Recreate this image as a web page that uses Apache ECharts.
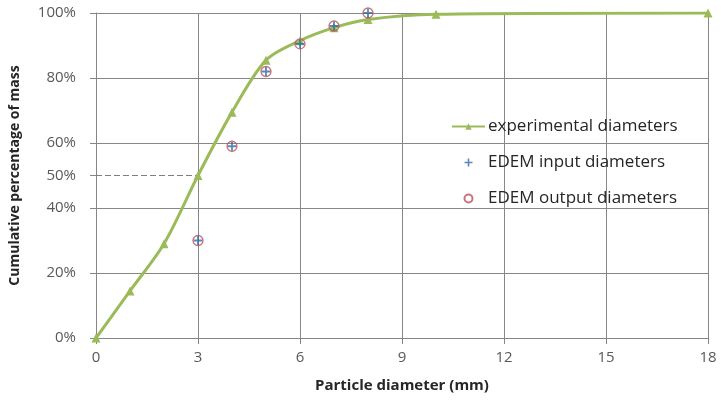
<!DOCTYPE html>
<html>
<head>
<meta charset="utf-8">
<script src="https://cdn.jsdelivr.net/npm/echarts@6/dist/echarts.min.js"></script>
<style>
  html, body { margin: 0; padding: 0; background: #fff; }
  #chart { width: 721px; height: 403px; }
</style>
</head>
<body>
<div id="chart"></div>
<script>
// experimental curve (diameter mm, cumulative %)
var expX = [0, 1, 2, 3, 4, 5, 6, 7, 8, 10, 18];
var expY = [0, 14.5, 29, 50, 69.5, 85.5, 91.5, 95.5, 98, 99.6, 100];
// EDEM points
var edemX = [3, 4, 5, 6, 7, 8];
var edemIn = [30, 59, 82, 90.5, 96, 100];
var edemOut = [30, 59, 82, 90.5, 96, 100];

function pairs(xs, ys) {
    return xs.map(function (x, i) { return [x, ys[i]]; });
}

var font = 'Open Sans';
var plusPath = 'path://M4,0 L6,0 L6,4 L10,4 L10,6 L6,6 L6,10 L4,10 L4,6 L0,6 L0,4 L4,4 Z';

var chart = echarts.init(document.getElementById('chart'));
var option = {
    animation: false,
    backgroundColor: '#fff',
    grid: { left: 94, right: 13, top: 13, bottom: 65 },
    legend: {
        orient: 'vertical',
        left: 446,
        top: 113,
        itemGap: 19,
        itemWidth: 33,
        itemHeight: 8,
        data: ['experimental diameters', 'EDEM input diameters', 'EDEM output diameters'],
        textStyle: { fontFamily: font, fontSize: 17, color: '#262626', padding: [0, 0, 0, -2] }
    },
    xAxis: {
        type: 'value',
        min: 0, max: 18, interval: 3,
        name: 'Particle diameter (mm)',
        nameLocation: 'middle',
        nameGap: 40,
        nameTextStyle: { fontFamily: font, fontSize: 15, fontWeight: 'bold', color: '#262626' },
        axisLine: { show: true, lineStyle: { color: '#868686' } },
        axisTick: { show: true, length: 6, lineStyle: { color: '#868686' } },
        axisLabel: { fontFamily: font, fontSize: 15, color: '#595959', margin: 12 },
        splitLine: { show: true, lineStyle: { color: '#878787', width: 1 } }
    },
    yAxis: [{
        type: 'value',
        min: 0, max: 100, interval: 20,
        name: 'Cumulative percentage of mass',
        nameLocation: 'middle',
        nameGap: 74,
        nameTextStyle: { fontFamily: font, fontSize: 14, fontWeight: 'bold', color: '#262626' },
        axisLine: { show: true, lineStyle: { color: '#868686' } },
        axisTick: { show: true, length: 6, lineStyle: { color: '#868686' } },
        axisLabel: { fontFamily: font, fontSize: 15, color: '#595959', margin: 20, formatter: '{value}%' },
        splitLine: { show: true, lineStyle: { color: '#878787', width: 1 } }
    }, {
        // extra 50% label
        type: 'value',
        position: 'left',
        min: 0, max: 100, interval: 50,
        axisLine: { show: false },
        axisTick: { show: true, length: 6, lineStyle: { color: '#868686' } },
        axisLabel: {
            fontFamily: font, fontSize: 15, color: '#595959', margin: 20,
            formatter: function (v) { return v === 50 ? '50%' : ''; }
        },
        splitLine: { show: false }
    }],
    series: [{
        name: '50line',
        type: 'line',
        data: [[0, 50], [3, 50]],
        symbol: 'none',
        silent: true,
        lineStyle: { color: '#7f7f7f', width: 1, type: [6, 3] },
        z: 1
    }, {
        name: 'experimental diameters',
        type: 'line',
        data: pairs(expX, expY),
        smooth: 0.3,
        symbol: 'triangle',
        symbolSize: 9,
        itemStyle: { color: '#9BBB59' },
        lineStyle: { color: '#9BBB59', width: 3 },
        z: 3
    }, {
        name: 'EDEM input diameters',
        type: 'scatter',
        data: pairs(edemX, edemIn),
        symbol: plusPath,
        symbolSize: 9,
        itemStyle: { color: '#2E6BA8' },
        z: 4
    }, {
        name: 'EDEM output diameters',
        type: 'scatter',
        data: pairs(edemX, edemOut),
        symbol: 'circle',
        symbolSize: 10,
        itemStyle: { color: 'rgba(0,0,0,0)', borderColor: '#B8505A', borderWidth: 1.3 },
        z: 5
    }]
};
chart.setOption(option);
</script>
</body>
</html>
